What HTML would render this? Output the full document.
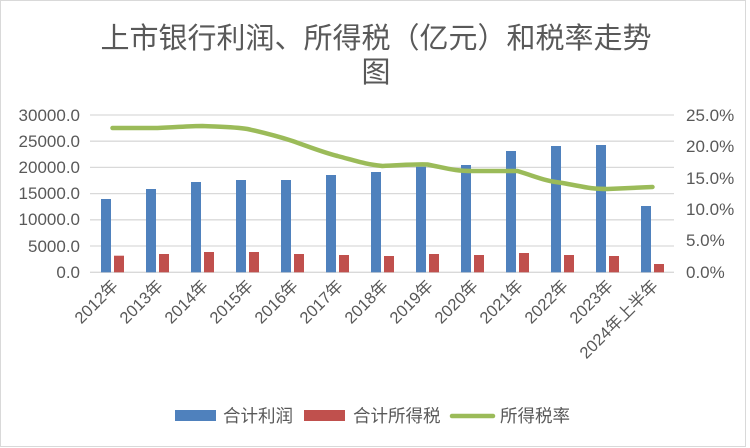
<!DOCTYPE html>
<html><head><meta charset="utf-8"><style>
body{margin:0;background:#fff;}
svg{display:block;}
text{font-family:"Liberation Sans","Noto Sans CJK SC",sans-serif;fill:#595959;}
</style></head><body>
<svg width="750" height="448" viewBox="0 0 750 448" xmlns="http://www.w3.org/2000/svg">
<rect x="0.5" y="0.5" width="745" height="446" fill="#fff" stroke="#d9d9d9" stroke-width="1"/>
<text x="376" y="48" font-size="29" text-anchor="middle">上市银行利润、所得税（亿元）和税率走势</text>
<text x="376" y="82" font-size="29" text-anchor="middle">图</text>
<g stroke="#d9d9d9" stroke-width="1.3">
<line x1="90" x2="674" y1="115" y2="115"/>
<line x1="90" x2="674" y1="141.2" y2="141.2"/>
<line x1="90" x2="674" y1="167.4" y2="167.4"/>
<line x1="90" x2="674" y1="193.6" y2="193.6"/>
<line x1="90" x2="674" y1="219.8" y2="219.8"/>
<line x1="90" x2="674" y1="246" y2="246"/>
<line x1="90" x2="674" y1="272.3" y2="272.3"/>
</g>
<g font-size="17" text-anchor="end">
<text x="80" y="121">30000.0</text>
<text x="80" y="147">25000.0</text>
<text x="80" y="173">20000.0</text>
<text x="80" y="199">15000.0</text>
<text x="80" y="225">10000.0</text>
<text x="80" y="252">5000.0</text>
<text x="80" y="278">0.0</text>
</g>
<g font-size="17" text-anchor="start">
<text x="686" y="121">25.0%</text>
<text x="686" y="152">20.0%</text>
<text x="686" y="184">15.0%</text>
<text x="686" y="215">10.0%</text>
<text x="686" y="246">5.0%</text>
<text x="686" y="278">0.0%</text>
</g>
<g fill="#4f81bd">
<rect x="101" y="199" width="10" height="73.3"/>
<rect x="146" y="189" width="10" height="83.3"/>
<rect x="191" y="182" width="10" height="90.3"/>
<rect x="236" y="180" width="10" height="92.3"/>
<rect x="281" y="180" width="10" height="92.3"/>
<rect x="326" y="175" width="10" height="97.3"/>
<rect x="371" y="172" width="10" height="100.3"/>
<rect x="416" y="166.7" width="10" height="105.6"/>
<rect x="461" y="165" width="10" height="107.3"/>
<rect x="506" y="151" width="10" height="121.3"/>
<rect x="551" y="146" width="10" height="126.3"/>
<rect x="596" y="145" width="10" height="127.3"/>
<rect x="641" y="206" width="10" height="66.3"/>
</g>
<g fill="#c0504d">
<rect x="114" y="255.7" width="10" height="16.6"/>
<rect x="159" y="254" width="10" height="18.3"/>
<rect x="204" y="252" width="10" height="20.3"/>
<rect x="249" y="252" width="10" height="20.3"/>
<rect x="294" y="254" width="10" height="18.3"/>
<rect x="339" y="255" width="10" height="17.3"/>
<rect x="384" y="256" width="10" height="16.3"/>
<rect x="429" y="254" width="10" height="18.3"/>
<rect x="474" y="255" width="10" height="17.3"/>
<rect x="519" y="253" width="10" height="19.3"/>
<rect x="564" y="255" width="10" height="17.3"/>
<rect x="609" y="256" width="10" height="16.3"/>
<rect x="654" y="264" width="10" height="8.3"/>
</g>
<path d="M112.5,128 L157.5,128 C180,127 190,126 202.5,126 C225,127 235,127 247.5,129 C270,134 280,137 292.5,141 C315,149 325,153 337.5,156 C360,162 365,164 382.5,166 C405,165 415,164 427.5,164.5 C450,169 455,171 472.5,171 L517.5,171 C540,178 545,181 562.5,183 C585,187 590,189 607.5,189 C630,188 640,187.5 652.5,187" fill="none" stroke="#9bbb59" stroke-width="4.5" stroke-linecap="round" stroke-linejoin="round"/>
<g font-size="16.5" text-anchor="end">
<text transform="translate(119,287) rotate(-45)">2012年</text>
<text transform="translate(164,287) rotate(-45)">2013年</text>
<text transform="translate(209,287) rotate(-45)">2014年</text>
<text transform="translate(254,287) rotate(-45)">2015年</text>
<text transform="translate(299,287) rotate(-45)">2016年</text>
<text transform="translate(344,287) rotate(-45)">2017年</text>
<text transform="translate(389,287) rotate(-45)">2018年</text>
<text transform="translate(434,287) rotate(-45)">2019年</text>
<text transform="translate(479,287) rotate(-45)">2020年</text>
<text transform="translate(524,287) rotate(-45)">2021年</text>
<text transform="translate(569,287) rotate(-45)">2022年</text>
<text transform="translate(614,287) rotate(-45)">2023年</text>
<text transform="translate(659,287) rotate(-45)">2024年上半年</text>
</g>
<rect x="175" y="410" width="41" height="11" fill="#4f81bd"/>
<text x="223" y="422" font-size="17.5">合计利润</text>
<rect x="304" y="410" width="41" height="11" fill="#c0504d"/>
<text x="353" y="422" font-size="17.5">合计所得税</text>
<line x1="452" x2="493" y1="416" y2="416" stroke="#9bbb59" stroke-width="4.5" stroke-linecap="round"/>
<text x="500" y="422" font-size="17.5">所得税率</text>
</svg>
</body></html>
